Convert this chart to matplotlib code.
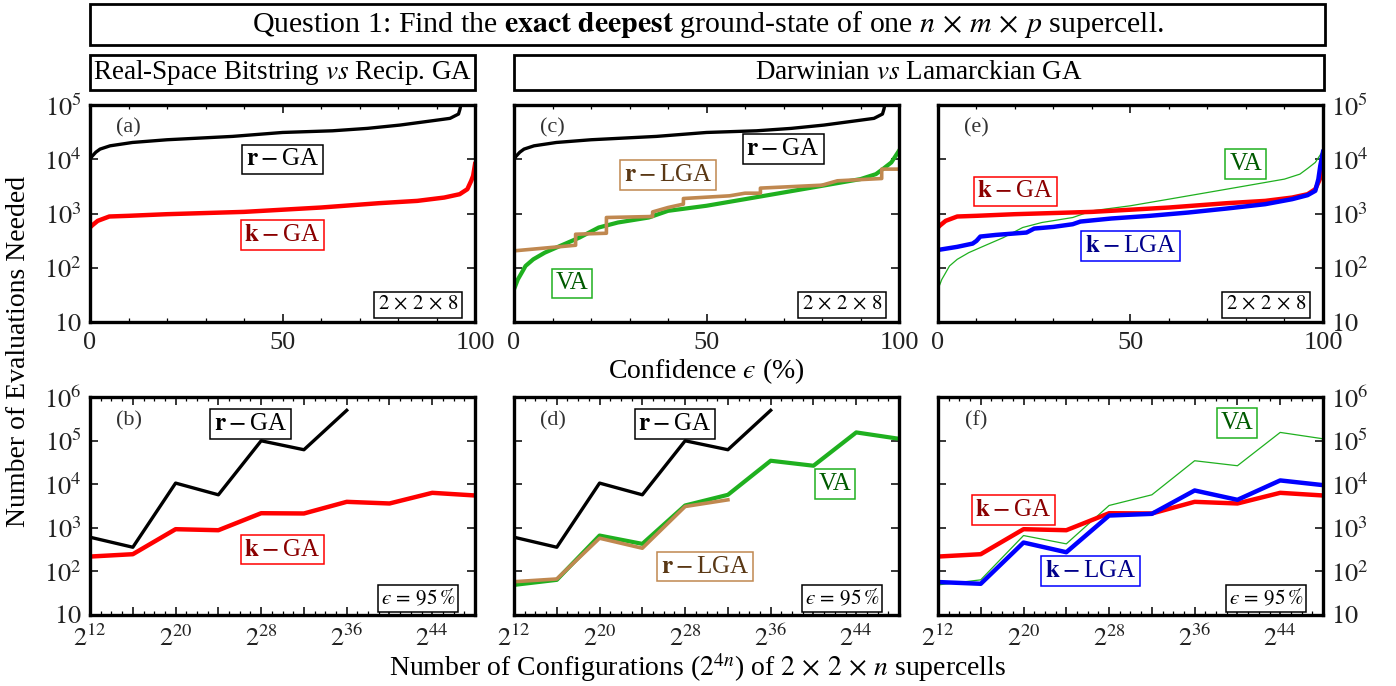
import numpy as np
import matplotlib.pyplot as plt
from matplotlib.patches import Rectangle
from matplotlib.ticker import FixedLocator, LogLocator, NullFormatter, MultipleLocator

plt.rcParams['font.family'] = ['Liberation Serif', 'DejaVu Serif']
plt.rcParams['mathtext.fontset'] = 'stix'

# --- confidence curves for the 2x2x8 supercell (x: confidence %, y: evaluations)
rga_conf_x = [0, 0.5, 1.5, 2.6, 5.2, 11, 20, 37, 50, 63, 72, 80.5, 89, 93.5, 95.7, 96.1, 96.3]
rga_conf_y = [10000, 11300, 13500, 15400, 17700, 20400, 22900, 26400, 31200, 33500, 37100,
              42700, 51400, 56800, 68200, 85000, 100000]

kga_conf_x = [0, 0.5, 2, 5, 10, 20, 40, 60, 75, 85, 92, 96, 98, 99, 99.5, 100]
kga_conf_y = [552, 600, 733, 881, 907, 972, 1072, 1290, 1550, 1710, 1970, 2270, 2810, 4010, 4950, 8150]

va_conf_x = [0, 1, 2, 3, 5, 8, 12, 17, 22, 27, 35, 40, 50, 60, 70, 80, 90, 94, 96, 98, 100]
va_conf_y = [40, 61, 81, 108, 143, 190, 253, 360, 552, 683, 844, 1120, 1390, 1840, 2440, 3240,
             4310, 5320, 6770, 8740, 14400]

rlga_conf_x = [0, 16, 16, 24, 24, 36, 36, 40, 44, 44, 56, 60, 64, 64, 80, 84, 95.5, 95.5, 100]
rlga_conf_y = [205, 260, 415, 433, 844, 881, 1070, 1290, 1490, 1890, 2120, 2370, 2370, 2940,
               3330, 4010, 4420, 6580, 6580]

klga_conf_x = [0, 5, 9, 10, 11, 15, 23, 25, 30, 35, 37, 45, 55, 65, 75, 85, 92, 96, 98, 98.8, 99.3, 100]
klga_conf_y = [213, 243, 279, 313, 376, 403, 446, 528, 567, 635, 711, 809, 906, 1043, 1236, 1487,
               1840, 2180, 2620, 4300, 7590, 13700]

# --- evaluations needed at 95% confidence vs supercell length n (2x2xn)
n_cells = np.arange(3, 13)
rga_95 = [608, 358, 10600, 5710, 99000, 61700, 494000]
kga_95 = [219, 248, 929, 880, 2160, 2130, 3940, 3610, 6340, 5510]
va_95 = [49, 64, 664, 428, 3250, 5710, 34500, 26500, 154000, 110000]
rlga_95 = [58, 67, 577, 340, 3080, 4380]
klga_95 = [57, 52, 459, 275, 1910, 2090, 7180, 4380, 12200, 9520]

configs = 2.0 ** (4 * n_cells)

GREEN = '#1fb01f'
BROWN = '#c08850'
TICK_FS = 19
LABEL_FS = 20

fig = plt.figure(figsize=(13.96, 6.86), dpi=100)

cols = [0.0645, 0.3682, 0.6719]
w = 0.2758
top_b, top_h = 0.5306, 0.3163
bot_b, bot_h = 0.1035, 0.3178

axes_top = [fig.add_axes([c, top_b, w, top_h]) for c in cols]
axes_bot = [fig.add_axes([c, bot_b, w, bot_h]) for c in cols]


def style_axis(ax, ymax):
    ax.set_yscale('log')
    ax.set_ylim(10, ymax)
    decades = list(range(1, int(round(np.log10(ymax))) + 1))
    ax.yaxis.set_major_locator(FixedLocator([10.0 ** d for d in decades]))
    ax.set_yticklabels(['$10$'] + ['$10^{%d}$' % d for d in decades[1:]])
    ax.yaxis.set_minor_locator(LogLocator(base=10, subs=np.arange(2, 10)))
    ax.yaxis.set_minor_formatter(NullFormatter())
    ax.tick_params(which='both', direction='in', top=True, right=True,
                   labelsize=TICK_FS, labelcolor='#222222')
    ax.tick_params(axis='x', pad=7)
    ax.tick_params(axis='y', pad=6)
    ax.tick_params(which='major', length=6, width=1.1)
    ax.tick_params(which='minor', length=3, width=0.9)
    for s in ax.spines.values():
        s.set_linewidth(2.4)


def tag(ax, x, y, s, fc, ec):
    ax.text(x, y, s, transform=ax.transAxes, ha='center', va='center', fontsize=18,
            color=fc, bbox=dict(boxstyle='square,pad=0.15', fc='white', ec=ec, lw=1.1), zorder=10)


def panel_letter(ax, s, y=0.895):
    ax.text(0.1, y, s, transform=ax.transAxes, ha='center', va='center', fontsize=16, color='#333333')


def size_box(ax, s, x=0.852, y=0.078):
    ax.text(x, y, s, transform=ax.transAxes, ha='center', va='center', fontsize=15,
            bbox=dict(boxstyle='square,pad=0.15', fc='white', ec='black', lw=1.1), zorder=10)


rga_lbl = r'$\mathbf{r}-$GA'
kga_lbl = r'$\mathbf{k}-$GA'
rlga_lbl = r'$\mathbf{r}-$LGA'
klga_lbl = r'$\mathbf{k}-$LGA'

# top row: confidence curves
for ax in axes_top:
    style_axis(ax, 1e5)
    ax.set_xlim(0, 100)
    ax.xaxis.set_major_locator(FixedLocator([0, 50, 100]))
    ax.xaxis.set_minor_locator(MultipleLocator(10))
    size_box(ax, r'$2\,\times\,2\,\times\,8$')

a, c, e = axes_top
a.plot(rga_conf_x, rga_conf_y, color='black', lw=2.4)
a.plot(kga_conf_x, kga_conf_y, color='red', lw=3.2)
panel_letter(a, '(a)')
tag(a, 0.5, 0.75, rga_lbl, 'black', 'black')
tag(a, 0.5, 0.40, kga_lbl, '#8b0000', 'red')

c.plot(rga_conf_x, rga_conf_y, color='black', lw=2.4)
c.plot(va_conf_x, va_conf_y, color=GREEN, lw=3.0)
c.plot(rlga_conf_x, rlga_conf_y, color=BROWN, lw=2.6)
panel_letter(c, '(c)')
tag(c, 0.699, 0.797, rga_lbl, 'black', 'black')
tag(c, 0.40, 0.677, rlga_lbl, '#5a3815', BROWN)
tag(c, 0.151, 0.178, 'VA', '#005a00', GREEN)
c.set_yticklabels([])
c.set_xlabel('Confidence $\u03f5$ (%)', fontsize=LABEL_FS, labelpad=2)

e.plot(va_conf_x, va_conf_y, color=GREEN, lw=0.9)
e.plot(kga_conf_x, kga_conf_y, color='red', lw=3.2)
e.plot(klga_conf_x, klga_conf_y, color='blue', lw=3.2)
panel_letter(e, '(e)')
tag(e, 0.799, 0.728, 'VA', '#005a00', GREEN)
tag(e, 0.201, 0.602, kga_lbl, '#8b0000', 'red')
tag(e, 0.501, 0.351, klga_lbl, '#00008b', 'blue')
e.tick_params(labelleft=False, labelright=True)

# bottom row: scaling with supercell size at 95% confidence
for ax in axes_bot:
    style_axis(ax, 1e6)
    ax.set_xscale('log', base=2)
    ax.set_xlim(2.0 ** 12, 2.0 ** 48)
    ax.xaxis.set_major_locator(FixedLocator(2.0 ** np.arange(12, 49, 4)))
    ax.xaxis.set_minor_locator(FixedLocator(2.0 ** np.arange(12, 49, 1)))
    ax.xaxis.set_minor_formatter(NullFormatter())
    ax.set_xticklabels(['$2^{%d}$' % k if (k - 12) % 8 == 0 else '' for k in range(12, 49, 4)])
    size_box(ax, '$\u03f5\\,=\\,95\\,\\%$', y=0.075)

b, d, f = axes_bot
b.plot(configs[:len(rga_95)], rga_95, color='black', lw=2.4)
b.plot(configs, kga_95, color='red', lw=3.2)
panel_letter(b, '(b)', 0.89)
tag(b, 0.416, 0.877, rga_lbl, 'black', 'black')
tag(b, 0.50, 0.30, kga_lbl, '#8b0000', 'red')

d.plot(configs[:len(rga_95)], rga_95, color='black', lw=2.4)
d.plot(configs, va_95, color=GREEN, lw=3.0)
d.plot(configs[:len(rlga_95)], rlga_95, color=BROWN, lw=2.6)
panel_letter(d, '(d)', 0.89)
tag(d, 0.418, 0.877, rga_lbl, 'black', 'black')
tag(d, 0.833, 0.60, 'VA', '#005a00', GREEN)
tag(d, 0.496, 0.222, rlga_lbl, '#5a3815', BROWN)
d.set_yticklabels([])

f.plot(configs, va_95, color=GREEN, lw=0.9)
f.plot(configs, kga_95, color='red', lw=3.2)
f.plot(configs, klga_95, color='blue', lw=3.2)
panel_letter(f, '(f)', 0.89)
tag(f, 0.777, 0.881, 'VA', '#005a00', GREEN)
tag(f, 0.196, 0.481, kga_lbl, '#8b0000', 'red')
tag(f, 0.397, 0.202, klga_lbl, '#00008b', 'blue')
f.tick_params(labelleft=False, labelright=True)

fig.text(0.5, 0.027, r'Number of Configurations ($2^{4n}$) of $2\,\times\,2\,\times\,n$ supercells',
         ha='center', va='center', fontsize=LABEL_FS)
fig.text(0.0136, 0.487, 'Number of Evaluations Needed', rotation=90, ha='center', va='center',
         fontsize=LABEL_FS)

# header boxes
fig.add_artist(Rectangle((0.0645, 0.9344), 0.8847, 0.0598, transform=fig.transFigure,
                         fill=False, lw=2.0, ec='black'))
fig.text(0.507, 0.9643,
         r'Question 1: Find the $\mathbf{exact\ deepest}$ ground-state of one '
         r'$n\,\times\,m\,\times\,p$ supercell.',
         ha='center', va='center', fontsize=21.5)
fig.add_artist(Rectangle((0.0645, 0.8688), 0.2758, 0.051, transform=fig.transFigure,
                         fill=False, lw=2.0, ec='black'))
fig.text(0.0645 + 0.2758 / 2, 0.8943, r'Real-Space Bitstring $\mathit{vs}$ Recip. GA',
         ha='center', va='center', fontsize=19.5)
fig.add_artist(Rectangle((0.3682, 0.8688), 0.5802, 0.051, transform=fig.transFigure,
                         fill=False, lw=2.0, ec='black'))
fig.text(0.3682 + 0.5802 / 2, 0.8943, r'Darwinian $\mathit{vs}$ Lamarckian GA',
         ha='center', va='center', fontsize=19.5)

fig.savefig('out.png', dpi=100)
